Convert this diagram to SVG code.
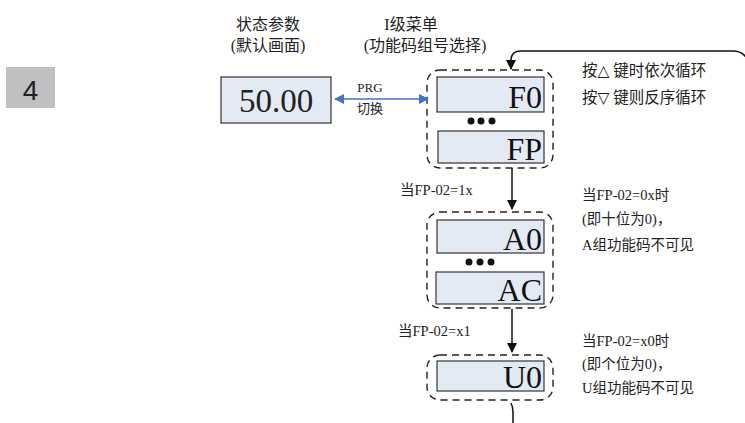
<svg xmlns="http://www.w3.org/2000/svg" width="745" height="423" viewBox="0 0 745 423">
<style>
text{font-family:'Liberation Serif','Times New Roman','DejaVu Serif','Noto Sans CJK SC',serif;fill:#222}
.h{font-size:16px;text-anchor:middle}
.n{font-size:14.5px}
.box{fill:#e4eaf4;stroke:#333;stroke-width:1.2}
.big{font-size:32px;text-anchor:end;fill:#111}
.grp{fill:none;stroke:#222;stroke-width:1.4;stroke-dasharray:7 5}
.ln{fill:none;stroke:#111;stroke-width:1.5}
</style>
<defs>
<marker id="ak" markerWidth="10" markerHeight="10" refX="9" refY="5" orient="auto" markerUnits="userSpaceOnUse"><path d="M0,0 L10,5 L0,10 z" fill="#111"/></marker>
<marker id="ab" markerWidth="10" markerHeight="10" refX="9" refY="5" orient="auto-start-reverse" markerUnits="userSpaceOnUse"><path d="M0,0 L10,5 L0,10 z" fill="#4472c4"/></marker>
</defs>
<g id="label4"><rect x="6" y="67" width="49" height="41" fill="#c0c0c0"/><text x="30.5" y="100" style="font-family:'Liberation Sans',Arial,sans-serif" font-size="28" text-anchor="middle" fill="#222">4</text></g>
<g id="headers">
<text class="h" x="268" y="30">状态参数</text>
<text class="h" x="268" y="51">(默认画面)</text>
<text class="h" x="411" y="30">I级菜单</text>
<text class="h" x="425" y="51">(功能码组号选择)</text>
</g>
<g id="status"><rect class="box" x="221" y="77" width="110" height="46"/><text x="276" y="112" font-size="33" text-anchor="middle" fill="#111">50.00</text></g>
<g id="groupF">
<rect class="grp" x="427" y="70" width="126" height="98" rx="13"/>
<rect class="box" x="437" y="77" width="107" height="35"/><text class="big" x="542" y="108">F0</text>
<circle cx="471" cy="121" r="3.5" fill="#111"/><circle cx="481" cy="121" r="3.5" fill="#111"/><circle cx="492" cy="121" r="3.5" fill="#111"/>
<rect class="box" x="438" y="131" width="106" height="32"/><text class="big" x="542" y="160">FP</text>
</g>
<g id="groupA">
<rect class="grp" x="427" y="212" width="126" height="96" rx="13"/>
<rect class="box" x="437" y="220" width="107" height="33"/><text class="big" x="542" y="250">A0</text>
<circle cx="469" cy="262" r="3.5" fill="#111"/><circle cx="480" cy="262" r="3.5" fill="#111"/><circle cx="491" cy="262" r="3.5" fill="#111"/>
<rect class="box" x="436" y="272" width="108" height="32"/><text class="big" x="542" y="301">AC</text>
</g>
<g id="groupU">
<rect class="grp" x="427" y="355" width="126" height="45" rx="13"/>
<rect class="box" x="437" y="361" width="107" height="30"/><text class="big" x="542" y="388">U0</text>
</g>
<g id="connectors">
<line x1="335" y1="99" x2="428" y2="99" stroke="#4472c4" stroke-width="1.5" marker-start="url(#ab)" marker-end="url(#ab)"/>
<text x="370" y="92" font-size="13" text-anchor="middle">PRG</text>
<text x="370" y="113" font-size="13" text-anchor="middle" fill="#444">切换</text>
<line class="ln" x1="512" y1="168" x2="512" y2="209" marker-end="url(#ak)"/>
<line class="ln" x1="512" y1="309" x2="512" y2="352" marker-end="url(#ak)"/>
<path class="ln" d="M750,66 Q746,51 733,51 L521,51 Q511,51 511,60 L511,69" marker-end="url(#ak)"/>
<path class="ln" d="M511,403 Q513,407 513,412 L513,423"/>
</g>
<g id="notes">
<text class="n" x="400" y="195">当FP-02=1x</text>
<text class="n" x="398" y="336">当FP-02=x1</text>
<text x="582" y="76" font-size="15.5">按△ 键时依次循环</text>
<text x="582" y="103" font-size="15.5">按▽ 键则反序循环</text>
<text class="n" x="582" y="200">当FP-02=0x时</text>
<text class="n" x="582" y="224">(即十位为0)，</text>
<text class="n" x="582" y="250">A组功能码不可见</text>
<text class="n" x="582" y="346">当FP-02=x0时</text>
<text class="n" x="582" y="369">(即个位为0)，</text>
<text class="n" x="582" y="393">U组功能码不可见</text>
</g>
</svg>
